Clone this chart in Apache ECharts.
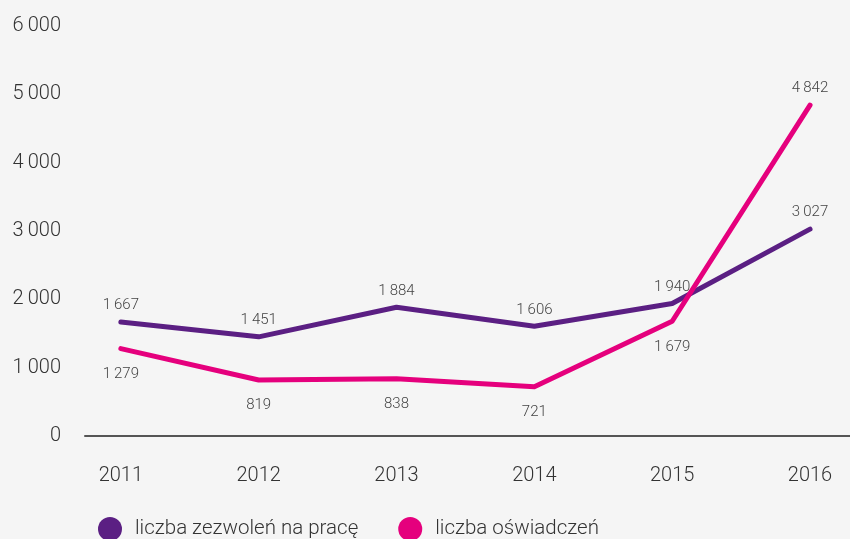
<!DOCTYPE html>
<html>
<head>
<meta charset="utf-8">
<script src="https://cdn.jsdelivr.net/npm/echarts@6/dist/echarts.min.js"></script>
<style>
  html, body { margin: 0; padding: 0; background: #f5f5f5; }
  #chart { width: 850px; height: 539px; }
</style>
</head>
<body>
<div id="chart"></div>
<script>
var years = [2011, 2012, 2013, 2014, 2015, 2016];
var zezwolenia = [1667, 1451, 1884, 1606, 1940, 3027];
var oswiadczenia = [1279, 819, 838, 721, 1679, 4842];
var yTicks = [0, 1000, 2000, 3000, 4000, 5000, 6000];

// liczby z odstępem tysięcy, jak w oryginale
function fmt(v) {
  return String(Math.round(v)).replace(/\B(?=(\d{3})+(?!\d))/g, '\u2009');
}
function pairs(vals) {
  return years.map(function (y, i) { return [y, vals[i]]; });
}

var font = 'Roboto, "Noto Sans", sans-serif';
var chart = echarts.init(document.getElementById('chart'));
chart.setOption({
  backgroundColor: '#f5f5f5',
  animation: false,
  grid: { left: 85, right: 0, top: 26, bottom: 103 },
  legend: {
    left: 93, top: 512,
    icon: 'circle', itemWidth: 24, itemHeight: 24, itemGap: 40,
    textStyle: { fontFamily: font, fontWeight: 300, fontSize: 20.5, color: '#333', padding: [0, 0, 0, 8] },
    data: ['liczba zezwoleń na pracę', 'liczba oświadczeń']
  },
  xAxis: {
    type: 'value',
    min: 2010.74, max: 2016.29,
    splitLine: { show: false },
    axisTick: { show: false },
    axisLine: { lineStyle: { color: '#555', width: 2 } },
    axisLabel: {
      customValues: years, margin: 30,
      fontFamily: font, fontWeight: 300, fontSize: 20, color: '#333',
      formatter: function (v) { return String(v); }
    }
  },
  yAxis: {
    type: 'value',
    min: 0, max: 6000, interval: 1000,
    splitLine: { show: false },
    axisTick: { show: false },
    axisLine: { show: false },
    axisLabel: {
      customValues: yTicks, margin: 24,
      padding: [0, 0, 8, 0],
      fontFamily: font, fontWeight: 300, fontSize: 20, color: '#333',
      formatter: fmt
    }
  },
  series: [
    {
      name: 'liczba zezwoleń na pracę',
      type: 'line',
      data: pairs(zezwolenia),
      color: '#5b1f83',
      symbol: 'circle', symbolSize: 0, showSymbol: true,
      lineStyle: { width: 5, cap: 'round', join: 'round' },
      label: {
        show: true, position: 'top', distance: 9,
        fontFamily: font, fontWeight: 300, fontSize: 15, color: '#444',
        formatter: function (p) { return fmt(p.value[1]); }
      },
      z: 2
    },
    {
      name: 'liczba oświadczeń',
      type: 'line',
      data: pairs(oswiadczenia).map(function (d, i) {
        return i === years.length - 1 ? { value: d, label: { position: 'top', distance: 9 } } : d;
      }),
      color: '#e5007d',
      symbol: 'circle', symbolSize: 0, showSymbol: true,
      lineStyle: { width: 5, cap: 'round', join: 'round' },
      label: {
        show: true, position: 'bottom', distance: 18,
        fontFamily: font, fontWeight: 300, fontSize: 15, color: '#444',
        formatter: function (p) { return fmt(p.value[1]); }
      },
      z: 3
    }
  ]
});
</script>
</body>
</html>
